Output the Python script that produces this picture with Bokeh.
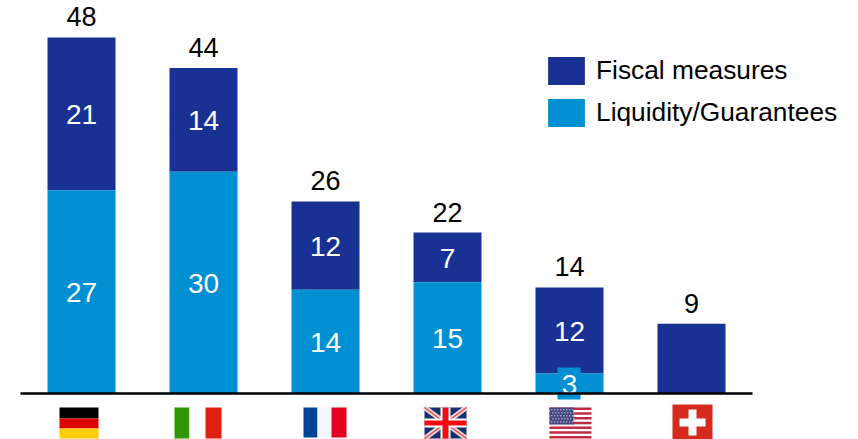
from bokeh.plotting import figure
from bokeh.embed import file_html
from bokeh.resources import INLINE
from bokeh.models import Range1d, ColumnDataSource, Legend, LegendItem, LinearAxis, FixedTicker
from bokeh.core.properties import value

countries = ["Germany", "Italy", "France", "UK", "USA", "Switzerland"]
liquidity = [27.4, 29.9, 14.0, 15.0, 2.7, 0.0]
fiscal = [20.6, 14.0, 11.9, 6.7, 11.6, 9.4]
liquidity_labels = ["27", "30", "14", "15", "3"]
fiscal_labels = ["21", "14", "12", "7", "12"]
total_labels = ["48", "44", "26", "22", "14", "9"]

DARK = "#1A3194"
LIGHT = "#0090D2"
FONT = value("Liberation Sans")

W, H = 858, 439
PX_PER_UNIT = 7.417
p = figure(width=W, height=H, output_backend="svg", toolbar_location=None,
           x_range=Range1d((0 - 81) / 122, (W - 81) / 122),
           y_range=Range1d((393 - H) / PX_PER_UNIT, 393 / PX_PER_UNIT),
           x_axis_type=None, y_axis_type=None, min_border=0,
           outline_line_color=None)
p.grid.visible = False
p.extra_x_ranges["px"] = Range1d(0, W)
p.extra_y_ranges["px"] = Range1d(H, 0)

xs = list(range(len(countries)))
tops = [a + b for a, b in zip(liquidity, fiscal)]
src = ColumnDataSource(dict(x=xs, liq=liquidity, top=tops, tot_lab=total_labels))
n = len(liquidity_labels)
lab_src = ColumnDataSource(dict(
    x=xs[:n],
    liq_mid=[v / 2 for v in liquidity[:n]],
    fis_mid=[a + b / 2 for a, b in zip(liquidity[:n], fiscal[:n])],
    liq_lab=liquidity_labels, fis_lab=fiscal_labels))

BAR = 68 / 122
r_fis = p.vbar(x="x", bottom="liq", top="top", width=BAR, source=src,
               fill_color=DARK, line_color=None)
r_liq = p.vbar(x="x", bottom=0, top="liq", width=BAR, source=src,
               fill_color=LIGHT, line_color=None)

# baseline
axis = LinearAxis(fixed_location=0, bounds=(-0.5, 5.5), ticker=FixedTicker(ticks=[]),
                  major_tick_line_color=None, minor_tick_line_color=None,
                  axis_line_color="#000000", axis_line_width=2.5)
p.add_layout(axis, "below")


def box(x0, x1, y0, y1, color):
    p.quad(left=x0, right=x1, top=y0, bottom=y1, fill_color=color, line_color=None,
           x_range_name="px", y_range_name="px")


def line(xa, ya, xb, yb, color, w):
    p.line([xa, xb], [ya, yb], line_color=color, line_width=w,
           x_range_name="px", y_range_name="px")


# box behind the US "3"
box(557, 580, 367, 399, LIGHT)

p.text(x="x", y="liq_mid", text="liq_lab", source=lab_src, text_color="#FFFFFF", text_font=FONT,
       text_font_size="28px", text_align="center", text_baseline="middle", y_offset=1)
p.text(x="x", y="fis_mid", text="fis_lab", source=lab_src, text_color="#FFFFFF", text_font=FONT,
       text_font_size="28px", text_align="center", text_baseline="middle", y_offset=1)
p.text(x="x", y="top", text="tot_lab", source=src, text_color="#000000", text_font=FONT,
       text_font_size="27px", text_align="center", text_baseline="bottom", y_offset=-11)

# --- flags, in screen pixels ---
# Germany
box(59, 98, 407, 418, "#000000")
box(59, 98, 418, 428, "#DD0000")
box(59, 98, 428, 438, "#FFCE00")
# Italy
box(174, 189, 407, 438, "#319405")
box(189, 205, 407, 438, "#FDFFFB")
box(205, 221, 407, 438, "#E02112")
# France
box(303, 317, 407, 437, "#004494")
box(317, 331, 407, 437, "#F4F6FA")
box(331, 346, 407, 437, "#E4001F")
# UK
box(424, 466, 407, 438, "#15306F")
line(424, 407, 466, 438, "#F5DADA", 5)
line(424, 438, 466, 407, "#F5DADA", 5)
line(424, 407, 466, 438, "#E4474F", 1.5)
line(424, 438, 466, 407, "#E4474F", 1.5)
box(424, 466, 418, 427, "#FFFFFF")
box(440, 450, 407, 438, "#FFFFFF")
box(424, 466, 420, 425, "#F80B10")
box(442, 448, 407, 438, "#F80B10")
# USA
box(549, 591, 407, 438, "#FFFFFF")
for i in range(7):
    y0 = 407 + i * 31 / 6.5
    box(549, 591, y0, y0 + 31 / 13, "#BE2B43")
box(549, 573, 407, 424, "#45477F")
for row in range(6):
    for col in range(8):
        x = 550.5 + col * 3 + (row % 2)
        y = 408.5 + row * 3
        box(x, x + 1.4, y, y + 1.4, "#A5A6C4")
# Switzerland
box(672, 712, 404, 439, "#D52B1E")
box(679, 705, 418, 426, "#FFFFFF")
box(688, 696, 409, 435, "#FFFFFF")

legend = Legend(items=[LegendItem(label="Fiscal measures", renderers=[r_fis]),
                       LegendItem(label="Liquidity/Guarantees", renderers=[r_liq])],
                location=(543, 309), orientation="vertical", border_line_color=None,
                background_fill_alpha=0, margin=0, padding=0, spacing=7,
                glyph_width=46, glyph_height=35, label_standoff=7,
                label_text_font="Liberation Sans", label_text_font_size="26.3px",
                label_text_color="#000000", label_height=35)
p.add_layout(legend, "center")

open("out.html", "w").write(file_html(p, INLINE))
